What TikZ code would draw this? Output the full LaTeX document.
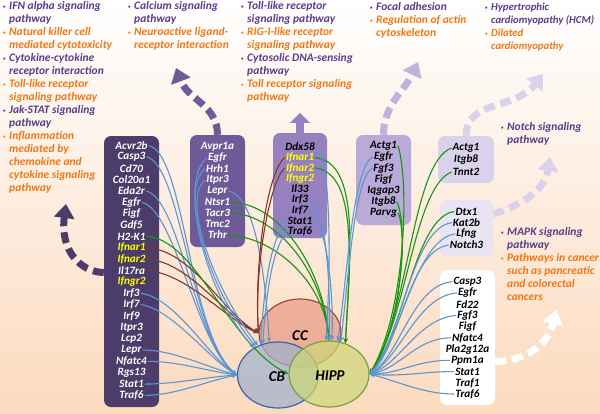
\documentclass[tikz,border=0pt]{standalone}
\usepackage{fontspec}
\setmainfont{Carlito}
\usetikzlibrary{arrows.meta,shapes.geometric,calc}
\definecolor{pp}{RGB}{90,60,140}
\definecolor{orng}{RGB}{240,120,20}
\definecolor{yel}{RGB}{255,255,0}
\definecolor{boxA}{RGB}{75,60,105}
\definecolor{boxB}{RGB}{110,90,150}
\definecolor{boxC}{RGB}{150,128,192}
\definecolor{boxD}{RGB}{185,170,215}
\definecolor{boxE}{RGB}{218,210,236}
\definecolor{boxF}{RGB}{232,228,244}
\definecolor{peach}{RGB}{252,218,190}
\definecolor{lblue}{RGB}{90,150,210}
\definecolor{lgreen}{RGB}{20,150,20}
\definecolor{lbrown}{RGB}{130,55,40}
\newcommand\bulx{\makebox[6pt][l]{\raisebox{1pt}{\tiny\textbullet}}}
\newcommand\indx{\hspace*{6pt}}
\newcommand\yl[1]{\textcolor{yel}{#1}}
\newcommand\purp[1]{\textcolor{pp}{#1}}
\newcommand\oran[1]{\textcolor{orng}{#1}}
\tikzset{
  gene/.style={font=\fontsize{11.2}{12}\selectfont\bfseries\itshape, inner sep=1pt},
  gbox/.style={rounded corners=7pt, inner sep=0pt},
  ptext/.style={font=\fontsize{11.5}{13}\selectfont\bfseries\itshape, align=left, anchor=north west, inner sep=0pt},
  venn/.style={ellipse, draw, line width=1.2pt, fill opacity=0.72, inner sep=0pt},
  vlab/.style={font=\fontsize{15}{17}\selectfont\bfseries\itshape, inner sep=0pt},
  conn/.style={line width=1.1pt, -{Stealth[length=5pt,width=4.5pt]}},
  bl/.style={conn, draw=lblue},
  gr/.style={conn, draw=lgreen},
  br/.style={conn, draw=lbrown},
  darr/.style={line width=7pt, dash pattern=on 11pt off 6pt, -{Triangle[length=14pt,width=20pt]}}
}
\begin{document}
\begin{tikzpicture}[x=1pt,y=-1pt]
\useasboundingbox (0,0) rectangle (600,413);
\shade[top color=white, bottom color=peach] (0,0) rectangle (600,413);

% pathway texts
\node[ptext] (P1) at (3,1.5) {\purp{\bulx IFN alpha signaling}\\\purp{\indx pathway}\\
\oran{\bulx Natural killer cell}\\\oran{\indx mediated cytotoxicity}\\
\purp{\bulx Cytokine-cytokine}\\\purp{\indx receptor interaction}\\
\oran{\bulx Toll-like receptor}\\\oran{\indx signaling pathway}\\
\purp{\bulx Jak-STAT signaling}\\\purp{\indx pathway}\\
\oran{\bulx Inflammation}\\\oran{\indx mediated by}\\\oran{\indx chemokine and}\\
\oran{\indx cytokine signaling}\\\oran{\indx pathway}};
\node[ptext] (P2) at (128,1.5) {\purp{\bulx Calcium signaling}\\\purp{\indx pathway}\\
\oran{\bulx Neuroactive ligand-}\\\oran{\indx receptor interaction}};
\node[ptext] (P3) at (241,1.5) {\purp{\bulx Toll-like receptor}\\\purp{\indx signaling pathway}\\
\oran{\bulx RIG-I-like receptor}\\\oran{\indx signaling pathway}\\
\purp{\bulx Cytosolic DNA-sensing}\\\purp{\indx pathway}\\
\oran{\bulx Toll receptor signaling}\\\oran{\indx pathway}};
\node[ptext] (P4) at (370,2.5) {\purp{\bulx Focal adhesion}\\
\oran{\bulx Regulation of actin}\\\oran{\indx cytoskeleton}};
\node[ptext, font=\fontsize{10.7}{13}\selectfont\bfseries\itshape] (P5) at (485,2.5) {\purp{\bulx Hypertrophic}\\\purp{\indx cardiomyopathy (HCM)}\\
\oran{\bulx Dilated}\\\oran{\indx cardiomyopathy}};
\node[ptext] (P6) at (501,122) {\purp{\bulx Notch signaling}\\\purp{\indx pathway}};
\node[ptext] (P7) at (501,227) {\purp{\bulx MAPK signaling}\\\purp{\indx pathway}\\
\oran{\bulx Pathways in cancer}\\\oran{\indx such as pancreatic}\\\oran{\indx and colorectal}\\\oran{\indx cancers}};

% boxes
\node[gbox, fill=boxA, minimum width=55pt, minimum height=271pt] (BL) at (131.5,271.5) {};
\node[gbox, fill=boxB, minimum width=55pt, minimum height=112pt] (BA) at (217.5,191) {};
\node[gbox, fill=boxC, minimum width=54pt, minimum height=105pt] (BD) at (300,185.5) {};
\node[gbox, fill=boxD, minimum width=55pt, minimum height=90pt] (BC) at (383.5,180) {};
\node[gbox, fill=boxE, minimum width=56pt, minimum height=47pt] (BE) at (466,159.5) {};
\node[gbox, fill=boxF, minimum width=53pt, minimum height=56pt] (BF) at (466.5,228) {};
\node[gbox, fill=white, minimum width=55pt, minimum height=135pt] (BG) at (467.5,337.5) {};

% dashed arrows
\draw[darr, draw=boxA] ($(BL.west)+(0,1)$) .. controls (80,272) and (60,250) .. (66,204);
\draw[darr, draw=boxB] (BA.north) .. controls (217.5,105) and (188,100) .. (176,68);
\draw[line width=8pt, draw=boxC, -{Triangle[length=10pt,width=19pt]}] (BD.north) -- ++(0,-20);
\draw[darr, draw=boxD!90!white] (BC.north) .. controls (383.5,105) and (405,90) .. (418,62);
\draw[darr, draw=boxE] (BE.north) .. controls (466,100) and (515,110) .. (543,74);
\draw[darr, draw=boxE] ($(BF.east)+(0,-14)$) .. controls (522,205) and (545,190) .. (550,157);
\draw[darr, draw=white] ($(BG.east)+(0,24)$) .. controls (525,361) and (548,345) .. (556,310);

% genes
\foreach \g [count=\i] in {Acvr2b,Casp3,Cd70,Col20a1,Eda2r,Egfr,Figf,Gdf5,H2-K1,\yl{Ifnar1},\yl{Ifnar2},Il17ra,\yl{Ifngr2},Irf3,Irf7,Irf9,Itpr3,Lcp2,Lepr,Nfatc4,Rgs13,Stat1,Traf6}
  \node[gene, text=white] (L\i) at (131.5,{145.5+11.36*(\i-1)}) {\g};
\foreach \g [count=\i] in {Avpr1a,Egfr,Hrh1,Itpr3,Lepr,Ntsr1,Tacr3,Tmc2,Trhr}
  \node[gene, text=white] (A\i) at (217.5,{147+11*(\i-1)}) {\g};
\foreach \g [count=\i] in {Ddx58,\yl{Ifnar1},\yl{Ifnar2},\yl{Ifngr2},Il33,Irf3,Irf7,Stat1,Traf6}
  \node[gene, text=black] (D\i) at (300,{147+10.5*(\i-1)}) {\g};
\foreach \g [count=\i] in {Actg1,Egfr,Fgf3,Figf,Iqgap3,Itgb8,Parvg}
  \node[gene, text=black] (C\i) at (383.5,{145.7+11.2*(\i-1)}) {\g};
\foreach \g [count=\i] in {Actg1,Itgb8,Tnnt2}
  \node[gene, text=black] (E\i) at (466,{148+12*(\i-1)}) {\g};
\foreach \g [count=\i] in {Dtx1,Kat2b,Lfng,Notch3}
  \node[gene, text=black] (F\i) at (466.5,{211.5+11.2*(\i-1)}) {\g};
\foreach \g [count=\i] in {Casp3,Egfr,Fd22,Fgf3,Figf,Nfatc4,Pla2g12a,Ppm1a,Stat1,Traf1,Traf6}
  \node[gene, text=black] (G\i) at (467.5,{281.7+11.23*(\i-1)}) {\g};

% venn
\node[venn, fill={rgb,255:red,232;green,155;blue,135}, draw={rgb,255:red,170;green,70;blue,60}, minimum width=82pt, minimum height=68pt] (CC) at (300,333) {};
\node[venn, fill={rgb,255:red,160;green,178;blue,205}, draw={rgb,255:red,60;green,100;blue,160}, minimum width=81pt, minimum height=66pt] (CB) at (278,375) {};
\node[venn, fill={rgb,255:red,205;green,215;blue,120}, draw={rgb,255:red,120;green,160;blue,70}, minimum width=80pt, minimum height=66pt] (HIPP) at (329,374) {};

% connectors: left box
\draw[bl] (L1.east) .. controls +(36,8) and +(-48,-40) .. (CB.west);
\draw[bl] (L2.east) .. controls +(35,8) and +(-46,-36) .. (CB.west);
\draw[bl] (L5.east) .. controls +(34,8) and +(-42,-32) .. (CB.west);
\draw[bl] (L6.east) .. controls +(33,8) and +(-40,-30) .. (CB.west);
\draw[bl] (L14.east) .. controls +(35,5) and +(-30,-20) .. (CB.west);
\draw[bl] (L15.east) .. controls +(32,5) and +(-28,-16) .. (CB.west);
\draw[bl] (L19.east) .. controls +(30,0) and +(-30,-8) .. (CB.west);
\draw[bl] (L20.east) .. controls +(30,0) and +(-30,-4) .. (CB.west);
\draw[bl] (L22.east) .. controls +(30,0) and +(-30,2) .. (CB.west);
\draw[bl] (L23.east) .. controls +(30,0) and +(-30,6) .. (CB.west);
\draw[br] (L10.east) .. controls +(45,2) and +(-35,-20) .. (CC.west);
\draw[br] (L11.east) .. controls +(42,2) and +(-33,-16) .. (CC.west);
\draw[br] (L12.east) .. controls +(40,2) and +(-30,-12) .. (CC.west);
\draw[gr] (L9.east) .. controls +(50,3) and +(-60,-30) .. (HIPP.west);
% Avpr1a box
\draw[bl] (A2.west) .. controls +(-28,20) and +(-52,-60) .. (CB.132);
\draw[bl] (A3.west) .. controls +(-26,20) and +(-48,-58) .. (CB.128);
\draw[bl] (A4.west) .. controls +(-24,20) and +(-44,-56) .. (CB.124);
\draw[bl] (A5.east) .. controls +(22,4) and +(-5,-90) .. (CB.105);
\draw[gr] (A6.east) .. controls +(50,2) and +(-5,-70) .. (HIPP.north);
\draw[gr] (A7.east) .. controls +(48,2) and +(-5,-65) .. (HIPP.north);
\draw[gr] (A9.east) .. controls +(45,2) and +(-5,-60) .. (HIPP.north);
% Ddx58 box
\draw[br] (D2.west) .. controls +(-18,15) and +(-4,-70) .. (CC.west);
\draw[br] (D3.west) .. controls +(-16,15) and +(-4,-64) .. (CC.west);
\draw[gr] (D2.east) .. controls +(45,5) and +(5,-90) .. (HIPP.62);
\draw[gr] (D3.east) .. controls +(42,5) and +(5,-85) .. (HIPP.62);
\draw[bl] (D1.east) .. controls +(15,10) and +(5,-80) .. (HIPP.95);
\draw[bl] (D6.east) .. controls +(15,8) and +(2,-70) .. (HIPP.90);
\draw[bl] (D7.east) .. controls +(14,8) and +(2,-65) .. (HIPP.85);
\draw[bl] (D8.west) .. controls +(-12,15) and +(5,-80) .. (CB.120);
\draw[bl] (D9.west) .. controls +(-10,15) and +(5,-75) .. (CB.116);
% Actg1 box
\draw[gr] (C1.east) .. controls +(12,40) and +(35,-60) .. (HIPP.east);
\draw[gr] (C6.east) .. controls +(12,25) and +(32,-48) .. (HIPP.east);
\draw[gr] (C7.east) .. controls +(10,22) and +(30,-42) .. (HIPP.east);
\draw[bl] (C2.west) .. controls +(-20,10) and +(10,-70) .. (HIPP.75);
\draw[bl] (C3.west) .. controls +(-18,10) and +(8,-65) .. (HIPP.70);
% Tnnt2 box
\draw[gr] (E1.west) .. controls +(-40,15) and +(40,-60) .. (HIPP.east);
\draw[gr] (E3.west) .. controls +(-38,15) and +(38,-55) .. (HIPP.east);
% Dtx1 box
\draw[gr] (F1.west) .. controls +(-40,5) and +(35,-40) .. (HIPP.east);
\draw[bl] (F2.west) .. controls +(-40,5) and +(32,-34) .. (HIPP.east);
\draw[bl] (F3.west) .. controls +(-40,5) and +(30,-30) .. (HIPP.east);
\draw[bl] (F4.west) .. controls +(-40,5) and +(30,-26) .. (HIPP.east);
% Casp3 box
\draw[bl] (G1.west) .. controls +(-40,3) and +(30,-18) .. (HIPP.east);
\draw[bl] (G2.west) .. controls +(-40,3) and +(30,-15) .. (HIPP.east);
\draw[bl] (G4.west) .. controls +(-38,3) and +(30,-10) .. (HIPP.east);
\draw[bl] (G6.west) .. controls +(-35,0) and +(30,-5) .. (HIPP.east);
\draw[bl] (G8.west) .. controls +(-35,0) and +(30,0) .. (HIPP.east);
\draw[bl] (G9.west) .. controls +(-30,0) and +(30,3) .. (HIPP.east);
\draw[bl] (G11.west) .. controls +(-30,0) and +(30,8) .. (HIPP.east);

% venn labels
\node[vlab] (tCC) at (300,336) {CC};
\node[vlab] (tCB) at (277,377) {CB};
\node[vlab] (tHIPP) at (330,376) {HIPP};
\end{tikzpicture}
\end{document}
